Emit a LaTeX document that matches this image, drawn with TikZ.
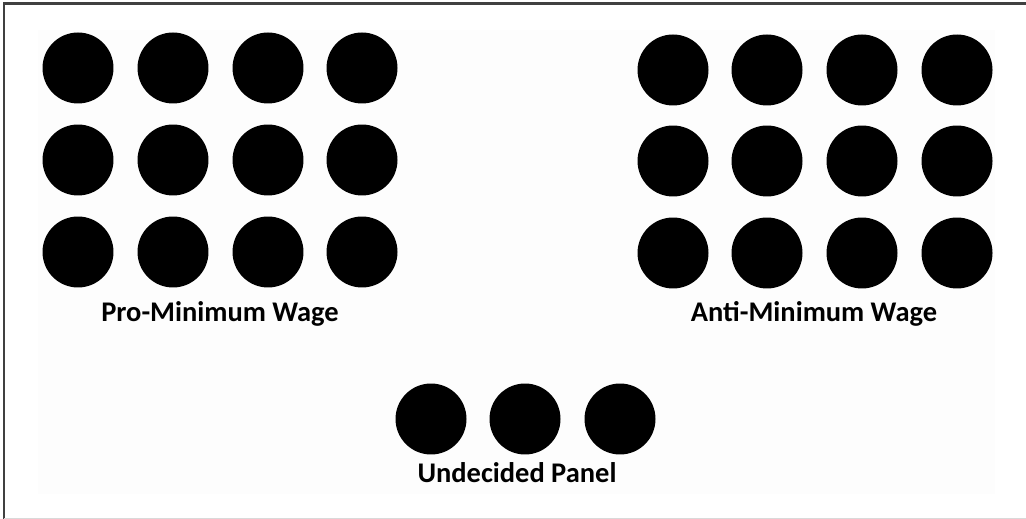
\documentclass[tikz,border=0pt]{standalone}
\usepackage{fontspec}
\setmainfont{Carlito}
\begin{document}
\begin{tikzpicture}[
    x=0.02cm, y=-0.02cm,
    member/.style={circle, fill=black, inner sep=0pt, minimum size=1.42cm},
    grouplabel/.style={anchor=base, font=\bfseries\fontsize{16.2}{19}\selectfont}
]
    \useasboundingbox (0,0) rectangle (1026,519);

    % ================= FRAME =================
    \fill[white] (0,0) rectangle (1026,519);
    \fill[black!0.6] (38,30) rectangle (995,494);
    \draw[black!75, line width=1.2pt] (4,519) -- (4,3.5) -- (1026,3.5);
    \draw[black!15] (4,518) -- (1026,518);

    % ================= PRO GROUP =================
    \foreach \col/\x in {1/78,2/173,3/268,4/362}
        \foreach \row/\y in {1/68,2/160,3/252}
            \node[member] (pro-\row-\col) at (\x,\y) {};
    \node[grouplabel] (PROLBL) at (220,322) {Pro-Minimum Wage};

    % ================= ANTI GROUP =================
    \foreach \col/\x in {1/673,2/767,3/862,4/957}
        \foreach \row/\y in {1/70,2/161,3/253}
            \node[member] (anti-\row-\col) at (\x,\y) {};
    \node[grouplabel] (ANTILBL) at (814,322) {Anti-Minimum Wage};

    % ================= UNDECIDED =================
    \foreach \col/\x in {1/431,2/525,3/620}
        \node[member] (und-\col) at (\x,419) {};
    \node[grouplabel] (UNDLBL) at (517,482) {Undecided Panel};

\end{tikzpicture}
\end{document}
